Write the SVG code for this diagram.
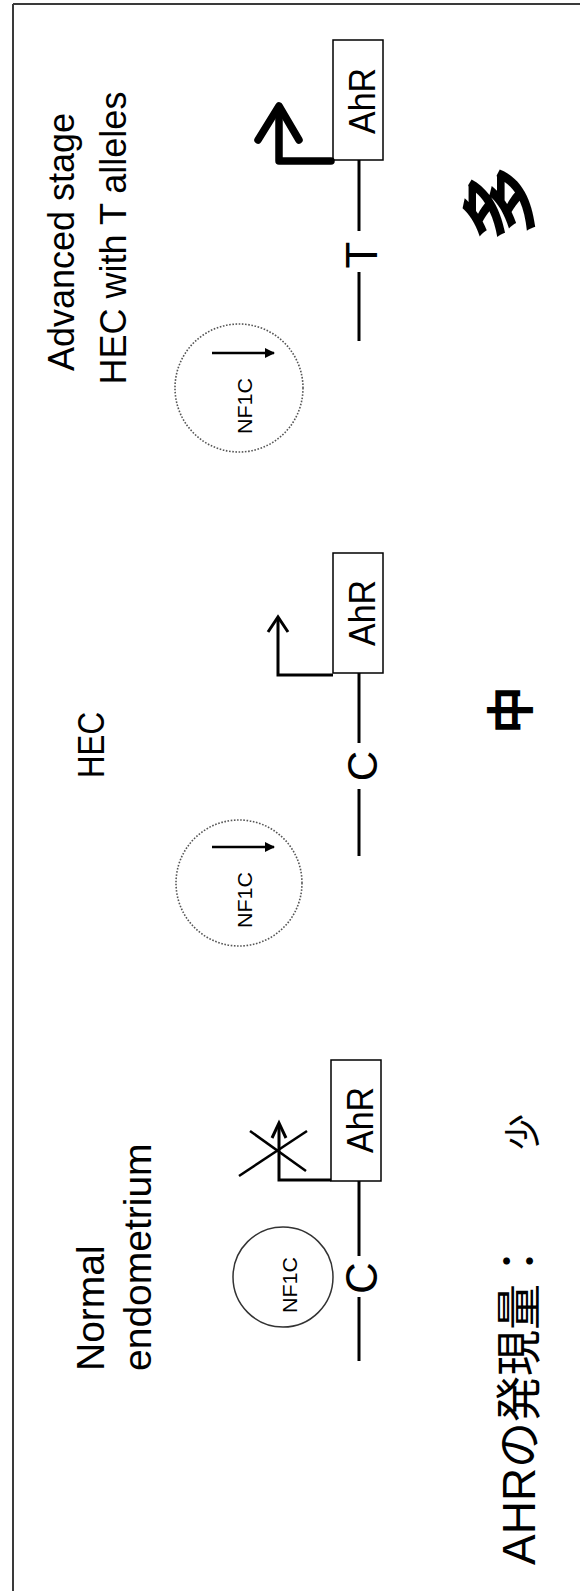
<svg xmlns="http://www.w3.org/2000/svg" width="580" height="1591" viewBox="0 0 580 1591">
  <style>
    .frame{stroke:#3a3a3a;stroke-width:2;fill:none}
    .lbl{font-family:"Liberation Sans",Arial,sans-serif;fill:#000}
    .cjk{font-family:"Liberation Sans","Noto Sans CJK JP",sans-serif;fill:#000}
    .box{fill:#fff;stroke:#000;stroke-width:1.5}
    .dna{stroke:#000;stroke-width:3;fill:none}
    .tss{stroke:#000;stroke-width:3;fill:none}
    .tss-strong{stroke:#000;stroke-width:7.5;fill:none;stroke-linecap:round;stroke-linejoin:round}
    .block{stroke:#000;stroke-width:2.5}
    .nf-weak{fill:none;stroke:#555;stroke-width:1.6;stroke-dasharray:1.6 1.6}
    .nf{fill:none;stroke:#333;stroke-width:1.5}
    .down{stroke:#000;stroke-width:2.5;fill:none;marker-end:url(#head)}
  </style>
  <defs>
    <marker id="head" viewBox="0 0 10 10" refX="9" refY="5" markerWidth="5" markerHeight="4" orient="auto">
      <path d="M0,0 L10,5 L0,10 z" fill="#000"/>
    </marker>
  </defs>

  <!-- outer frame -->
  <g id="frame">
    <line class="frame" x1="13" y1="4" x2="580" y2="4"/>
    <line class="frame" x1="13" y1="4" x2="13" y2="1591"/>
  </g>

  <!-- column headings -->
  <g id="label-advanced">
    <text class="lbl" font-size="36" text-anchor="middle" transform="translate(74,242) rotate(-90)">Advanced stage</text>
    <text class="lbl" font-size="36" text-anchor="middle" transform="translate(126,238) rotate(-90)">HEC with T alleles</text>
  </g>
  <g id="label-hec">
    <text class="lbl" font-size="37" text-anchor="middle" textLength="66" lengthAdjust="spacingAndGlyphs" transform="translate(104,745) rotate(-90)">HEC</text>
  </g>
  <g id="label-normal">
    <text class="lbl" font-size="39" transform="translate(104,1371) rotate(-90)">Normal</text>
    <text class="lbl" font-size="39" transform="translate(151,1371) rotate(-90)">endometrium</text>
  </g>

  <!-- NF1C factors -->
  <g id="nf1c-advanced">
    <circle class="nf-weak" cx="239" cy="388" r="64"/>
    <line class="down" x1="212" y1="353" x2="274" y2="353"/>
    <text class="lbl" font-size="21" text-anchor="middle" textLength="56" lengthAdjust="spacingAndGlyphs" transform="translate(252,406) rotate(-90)">NF1C</text>
  </g>
  <g id="nf1c-hec">
    <circle class="nf-weak" cx="239" cy="883" r="63"/>
    <line class="down" x1="212" y1="847" x2="274" y2="847"/>
    <text class="lbl" font-size="21" text-anchor="middle" textLength="56" lengthAdjust="spacingAndGlyphs" transform="translate(252,900) rotate(-90)">NF1C</text>
  </g>
  <g id="nf1c-normal">
    <circle class="nf" cx="283" cy="1277" r="50"/>
    <text class="lbl" font-size="21" text-anchor="middle" textLength="56" lengthAdjust="spacingAndGlyphs" transform="translate(297,1285) rotate(-90)">NF1C</text>
  </g>

  <!-- AhR gene boxes -->
  <g id="ahr-advanced">
    <rect class="box" x="333" y="40" width="50" height="120"/>
    <text class="lbl" font-size="37" text-anchor="middle" textLength="66" lengthAdjust="spacingAndGlyphs" transform="translate(375,101) rotate(-90)">AhR</text>
  </g>
  <g id="ahr-hec">
    <rect class="box" x="333" y="553" width="50" height="120"/>
    <text class="lbl" font-size="37" text-anchor="middle" textLength="66" lengthAdjust="spacingAndGlyphs" transform="translate(375,613) rotate(-90)">AhR</text>
  </g>
  <g id="ahr-normal">
    <rect class="box" x="331" y="1060" width="50" height="121"/>
    <text class="lbl" font-size="37" text-anchor="middle" textLength="66" lengthAdjust="spacingAndGlyphs" transform="translate(373,1120) rotate(-90)">AhR</text>
  </g>

  <!-- allele letters on the promoter -->
  <g id="allele-t">
    <text class="lbl" font-size="44" text-anchor="middle" transform="translate(377,255) rotate(-90)">T</text>
  </g>
  <g id="allele-c-hec">
    <text class="lbl" font-size="42" text-anchor="middle" transform="translate(377,766) rotate(-90)">C</text>
  </g>
  <g id="allele-c-normal">
    <text class="lbl" font-size="44" text-anchor="middle" transform="translate(377,1278) rotate(-90)">C</text>
  </g>

  <!-- expression level -->
  <g id="level-high">
    <text class="cjk" font-size="76" font-weight="bold" text-anchor="middle" transform="translate(528,203) rotate(-90)">多</text>
  </g>
  <g id="level-mid">
    <text class="cjk" font-size="48" font-weight="bold" text-anchor="middle" transform="translate(528,710) rotate(-90)">中</text>
  </g>
  <g id="level-low">
    <text class="cjk" font-size="36" text-anchor="middle" transform="translate(536,1132) rotate(-90)">少</text>
  </g>
  <g id="level-title">
    <text class="cjk" font-size="46" transform="translate(535,1565) rotate(-90)">AHRの発現量：</text>
  </g>

  <!-- promoter lines and transcription start arrows -->
  <g id="connectors">
    <line class="dna" x1="359" y1="160" x2="359" y2="231"/>
    <line class="dna" x1="359" y1="272" x2="359" y2="341"/>
    <path class="tss-strong" d="M331,161 H279 V108"/>
    <path class="tss-strong" d="M258,140 L279,106 L299,140"/>

    <line class="dna" x1="359" y1="673" x2="359" y2="743"/>
    <line class="dna" x1="359" y1="789" x2="359" y2="856"/>
    <path class="tss" d="M333,675 H278 V618"/>
    <path class="tss" d="M268,632 L278,617 L288,632"/>

    <line class="dna" x1="359" y1="1181" x2="359" y2="1256"/>
    <line class="dna" x1="359" y1="1297" x2="359" y2="1361"/>
    <path class="tss" d="M331,1180 H279 V1124"/>
    <path class="tss" d="M272,1138 L279,1123 L286,1138"/>
    <line class="block" x1="239" y1="1176" x2="307" y2="1131"/>
    <line class="block" x1="250" y1="1131" x2="306" y2="1171"/>
  </g>
</svg>
